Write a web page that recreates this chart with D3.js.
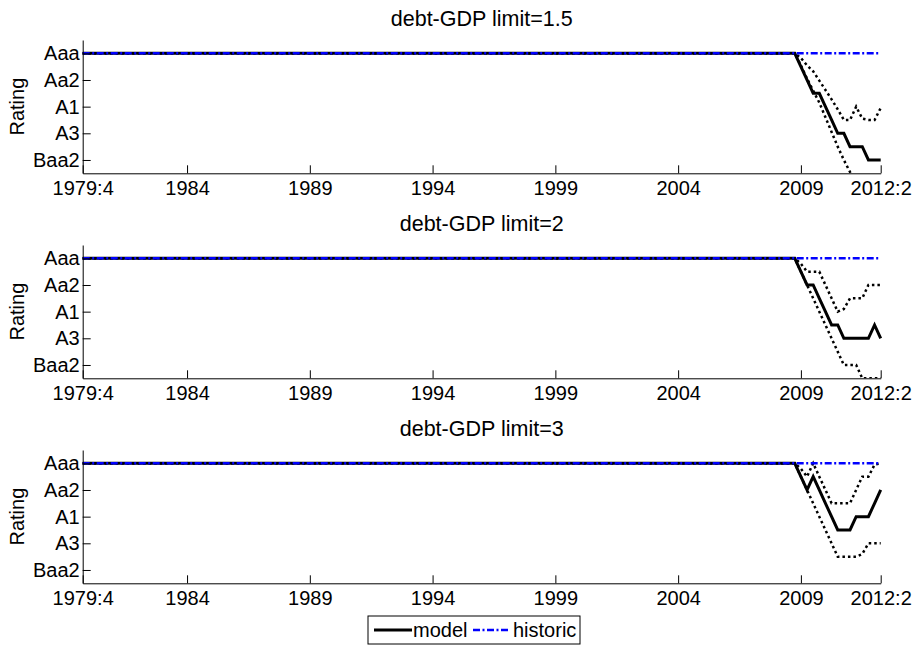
<!DOCTYPE html>
<head>
<meta charset="utf-8">
<style>
body { margin: 0; background: #fff; }
text { font-family: "Liberation Sans", Arial, sans-serif; }
.title { font-size: 21.5px; }
.label { font-size: 20px; }
.axis text { font-size: 20px; fill: #000; }
.axis path, .axis line { stroke: #000; stroke-width: 1px; }
.model { fill: none; stroke: #000; stroke-width: 3px; }
.band { fill: none; stroke: #000; stroke-width: 2.5px; stroke-dasharray: 2.5,3; }
.historic { fill: none; stroke: #00f; stroke-width: 2.5px; stroke-dasharray: 7,2.5,2,2.5; }
</style>
</head>
<body>
<svg width="912" height="645"></svg>
<script src="https://cdn.jsdelivr.net/npm/d3@7"></script>
<script>

// quarters counted from 1979:4 (0) to 2012:2 (130)
var xTickIdx = [0, 17, 37, 57, 77, 97, 117, 130],
    xTickLabels = ["1979:4", "1984", "1989", "1994", "1999", "2004", "2009", "2012:2"];

// rating notches: Aaa=1, Aa1=2, Aa2=3, ... Baa2=9
var ratingTicks = [1, 3, 5, 7, 9],
    ratingLabels = ["Aaa", "Aa2", "A1", "A3", "Baa2"];

var limits = ["1.5", "2", "3"];

// every series sits at Aaa from 1979:4; values below start at 2008:4 (quarter 116)
var tailStart = 116;

var model15 = [1, 2, 3, 4, 4, 5, 6, 7, 7, 8, 8, 8, 9, 9, 9],
    upper15 = [1, 1.35, 1.9, 2.35, 3.05, 3.75, 4.45, 5.2, 6, 6, 5, 5.9, 6, 6, 5.1],
    lower15 = [1, 1.9, 2.9, 3.8, 4.7, 5.8, 6.9, 8, 9, 9.9, 10.8, null, null, null, null];

var model2 = [1, 2, 3, 3, 4, 5, 6, 6, 7, 7, 7, 7, 7, 6, 7],
    upper2 = [1, 1.4, 2, 2, 2, 3, 4, 5, 4.8, 4, 4, 4, 3, 3, 3],
    lower2 = [1, 2, 3, 4, 5, 6, 7, 8, 9, 9, 9, 10, 10, 10, 10];

var model3 = [1, 2, 3, 2, 3, 4, 5, 6, 6, 6, 5, 5, 5, 4, 3],
    upper3 = [1, 1.4, 2, 1, 2, 3, 4, 4, 4, 4, 3, 2, 2, 1.1, 1],
    lower3 = [1, 2, 3, 4, 5, 6, 7, 8, 8, 8, 8, 7.8, 7, 7, 7];

// historic rating: Aaa over the whole sample
var historicIdx = [0, 130],
    historicVals = [1, 1];

var panels = [
  { model: model15, upper: upper15, lower: lower15 },
  { model: model2, upper: upper2, lower: lower2 },
  { model: model3, upper: upper3, lower: lower3 }
];

var svg = d3.select("svg"),
    left = 82.7, right = 880.7,
    panelTop = 40, panelH = 133.3, panelStep = 205;

var x = d3.scaleLinear().domain([0, 130]).range([left, right]);

function toPoints(vals) {
  return [[0, 1]].concat(vals.map(function(v, i) { return [tailStart + i, v]; }));
}

panels.forEach(function(p, k) {
  var top = panelTop + k * panelStep,
      y = d3.scaleLinear().domain([0, 10]).range([top, top + panelH]);

  var line = d3.line()
      .defined(function(d) { return d[1] != null; })
      .x(function(d) { return x(d[0]); })
      .y(function(d) { return y(d[1]); });

  svg.append("clipPath").attr("id", "clip" + k)
    .append("rect").attr("x", 0).attr("y", top).attr("width", 912).attr("height", panelH);

  var g = svg.append("g").attr("clip-path", "url(#clip" + k + ")");

  g.append("path").attr("class", "model").attr("d", line(toPoints(p.model)));
  g.append("path").attr("class", "band").attr("d", line(toPoints(p.upper)));
  g.append("path").attr("class", "band").attr("d", line(toPoints(p.lower)));
  g.append("path").attr("class", "historic")
      .attr("d", line(historicIdx.map(function(q, i) { return [q, historicVals[i]]; })));

  svg.append("g").attr("class", "axis")
      .attr("transform", "translate(" + left + ",0)")
      .call(d3.axisLeft(y).tickValues(ratingTicks)
        .tickFormat(function(d, i) { return ratingLabels[i]; })
        .tickSizeInner(-8).tickSizeOuter(0).tickPadding(3))
      .attr("font-family", null).attr("font-size", null);

  svg.append("g").attr("class", "axis")
      .attr("transform", "translate(0," + (top + panelH) + ")")
      .call(d3.axisBottom(x).tickValues(xTickIdx)
        .tickFormat(function(d, i) { return xTickLabels[i]; })
        .tickSizeInner(-8).tickSizeOuter(0).tickPadding(8))
      .attr("font-family", null).attr("font-size", null);

  svg.append("text").attr("class", "title")
      .attr("x", (left + right) / 2).attr("y", top - 14)
      .attr("text-anchor", "middle")
      .text("debt-GDP limit=" + limits[k]);

  svg.append("text").attr("class", "label")
      .attr("transform", "translate(24," + (top + panelH / 2) + ") rotate(-90)")
      .attr("text-anchor", "middle")
      .text("Rating");
});

// legend
var lg = svg.append("g");
lg.append("rect").attr("x", 368).attr("y", 616).attr("width", 212).attr("height", 28)
    .attr("fill", "#fff").attr("stroke", "#000");
lg.append("line").attr("class", "model").attr("x1", 374).attr("x2", 412).attr("y1", 630).attr("y2", 630);
lg.append("text").attr("class", "label").attr("x", 413).attr("y", 637).text("model");
lg.append("line").attr("class", "historic").attr("x1", 473).attr("x2", 510).attr("y1", 630).attr("y2", 630);
lg.append("text").attr("class", "label").attr("x", 513).attr("y", 637).text("historic");

</script>
</body>
